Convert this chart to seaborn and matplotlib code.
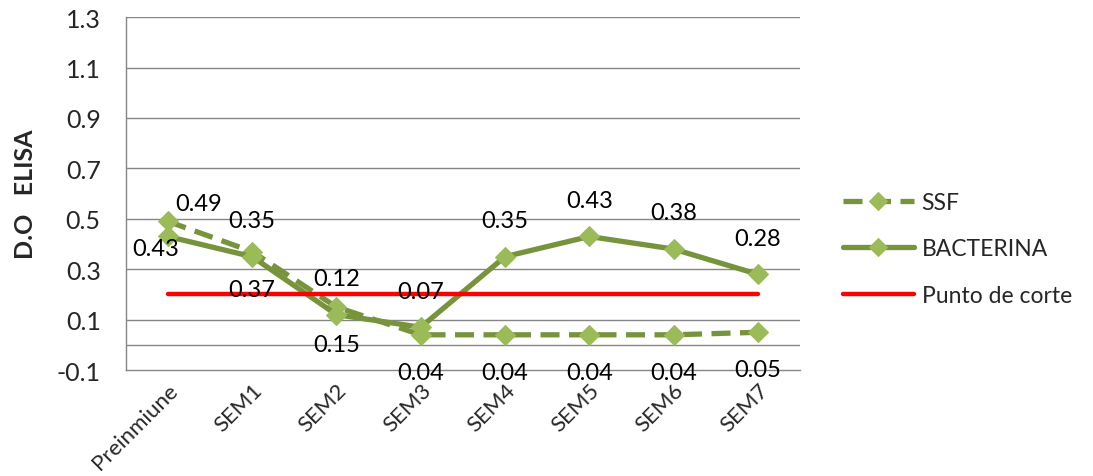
import matplotlib
matplotlib.use("Agg")
import matplotlib.pyplot as plt
import seaborn as sns
import pandas as pd

# Semanas de muestreo y lecturas de D.O. por ELISA
semanas = ["Preinmiune", "SEM1", "SEM2", "SEM3", "SEM4", "SEM5", "SEM6", "SEM7"]
ssf = [0.49, 0.37, 0.15, 0.04, 0.04, 0.04, 0.04, 0.05]
bacterina = [0.43, 0.35, 0.12, 0.07, 0.35, 0.43, 0.38, 0.28]
punto_corte = [0.2, 0.2, 0.2, 0.2, 0.2, 0.2, 0.2, 0.2]
y_ticks = [-0.1, 0.1, 0.3, 0.5, 0.7, 0.9, 1.1, 1.3]

sns.set_theme(style="white")
plt.rcParams["font.family"] = ["Lato", "DejaVu Sans"]

FS_LBL = 17
FS_YTICK = 18
FS_XTICK = 16
FS_LEG = 16.5
VERDE_LINEA = "#77933C"
VERDE_MARCA = "#9BBB59"
GRIS = "#868686"

pos = list(range(len(semanas)))
df = pd.DataFrame({"pos": pos, "SSF": ssf, "BACTERINA": bacterina,
                   "corte": punto_corte})

fig = plt.figure(figsize=(10.93, 4.77), dpi=100)
ax = fig.add_axes([0.115, 0.222, 0.617, 0.740])

# Líneas de cuadrícula horizontales (incluye la línea del cero)
for yv in y_ticks[1:] + [0.0]:
    ax.axhline(yv, color=GRIS, lw=1.0, zorder=0)

marker_kw = dict(marker="D", markersize=10.5, markerfacecolor=VERDE_MARCA,
                 markeredgecolor=VERDE_MARCA)

sns.lineplot(data=df, x="pos", y="SSF", ax=ax, color=VERDE_LINEA, lw=3.8,
             linestyle=(0, (3.6, 1.8)), label="SSF", zorder=3, **marker_kw)
sns.lineplot(data=df, x="pos", y="BACTERINA", ax=ax, color=VERDE_LINEA,
             lw=3.8, label="BACTERINA", zorder=4, **marker_kw)
sns.lineplot(data=df, x="pos", y="corte", ax=ax, color="#FF0000", lw=3.2,
             label="Punto de corte", zorder=5, solid_capstyle="round")

# Etiquetas de datos (desplazamientos en puntos)
off_ssf = [(22, 13)] + [(0, -27)] * 7
off_bac = [(-9, -9)] + [(0, 26)] * 7
for i in pos:
    ax.annotate(f"{ssf[i]:.2f}", (i, ssf[i]), xytext=off_ssf[i],
                textcoords="offset points", ha="center", va="center",
                fontsize=FS_LBL, color="black", zorder=6)
    ax.annotate(f"{bacterina[i]:.2f}", (i, bacterina[i]), xytext=off_bac[i],
                textcoords="offset points", ha="center", va="center",
                fontsize=FS_LBL, color="black", zorder=6)

ax.set_xlim(-0.5, len(semanas) - 0.5)
ax.set_ylim(-0.1, 1.3)
ax.set_yticks(y_ticks)
ax.set_yticklabels([f"{v:.1f}" for v in y_ticks], fontsize=FS_YTICK)
ax.set_xticks(pos)
ax.set_xticklabels(semanas, rotation=45, ha="right", rotation_mode="anchor",
                   fontsize=FS_XTICK)
ax.tick_params(axis="y", length=0, pad=18)
ax.tick_params(axis="x", length=0, pad=7)
ax.set_xlabel("")
ax.set_ylabel("D.O   ELISA", fontsize=18, fontweight="bold", labelpad=14)

for side in ["top", "right"]:
    ax.spines[side].set_visible(False)
for side in ["left", "bottom"]:
    ax.spines[side].set_color(GRIS)
    ax.spines[side].set_linewidth(1.0)

ax.get_legend().remove()
handles, labels = ax.get_legend_handles_labels()
fig.legend(handles, labels, loc="center left", bbox_to_anchor=(0.752, 0.476),
           frameon=False, fontsize=FS_LEG, handlelength=3.1, numpoints=1,
           labelspacing=1.1, handletextpad=0.35, markerscale=0.85)

fig.savefig("out.png", dpi=100)
